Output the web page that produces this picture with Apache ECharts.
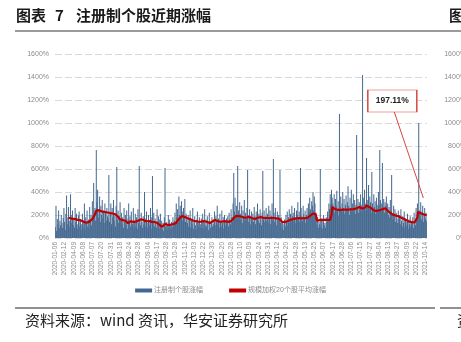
<!DOCTYPE html>
<html>
<head>
<meta charset="utf-8">
<script src="https://cdn.jsdelivr.net/npm/echarts@6/dist/echarts.min.js"></script>
<style>
html,body{margin:0;padding:0;background:#fff;}
#c{width:461px;height:342px;}
</style>
</head>
<body>
<div id="c"></div>
<script>
const tickLabels = ['2020-01-06','2020-02-12','2020-04-09','2020-06-08','2020-07-07','2020-07-20','2020-07-31','2020-08-18','2020-08-24','2020-08-28','2020-09-04','2020-09-17','2020-09-28','2020-10-28','2020-11-12','2020-12-03','2020-12-22','2020-12-30','2021-01-20','2021-01-28','2021-02-10','2021-03-09','2021-03-24','2021-03-31','2021-04-12','2021-04-20','2021-04-28','2021-05-13','2021-05-25','2021-06-07','2021-06-17','2021-06-28','2021-07-06','2021-07-15','2021-07-27','2021-08-04','2021-08-13','2021-08-27','2021-09-09','2021-09-22','2021-10-14'];
const labelStep = 14;
const yTicks = [0,200,400,600,800,1000,1200,1400,1600];

// 注册制个股涨幅 (%)
const barValues = [
95,280,60,165,120,240,85,150,110,200,130,90,175,260,140,70,210,370,120,180,
270,150,95,380,200,130,240,110,175,90,260,140,210,120,80,195,230,100,160,70,
120,210,90,150,300,75,180,130,240,100,160,85,270,140,200,110,320,180,478,230,
260,150,765,310,420,180,250,360,140,280,200,330,170,240,130,300,220,150,260,190,
170,548,140,220,300,120,260,180,330,150,210,100,280,617,160,240,130,190,310,150,
220,120,180,90,260,140,200,110,240,80,170,300,130,190,100,230,150,120,260,90,
140,210,100,180,80,250,130,626,160,110,220,140,90,190,120,400,170,100,230,130,
90,200,150,110,260,80,180,540,130,220,100,170,140,90,250,120,190,80,160,210,
110,150,80,130,60,180,609,100,140,70,120,200,90,160,110,75,140,95,180,120,
150,220,130,300,180,250,140,360,200,280,170,320,230,150,260,190,340,140,210,160,
130,200,100,170,240,90,150,120,260,80,140,190,110,70,160,230,100,130,180,90,
120,170,90,210,140,80,250,110,160,100,190,130,70,220,150,90,140,180,100,120,
160,230,110,190,140,280,120,170,90,210,150,100,240,130,180,80,200,140,110,170,
130,190,100,220,160,120,250,180,140,300,565,230,350,200,280,170,626,240,190,310,
210,160,280,130,240,190,330,150,220,170,260,591,140,200,250,120,180,230,160,210,
140,270,190,120,230,170,300,150,210,130,250,180,110,220,583,160,240,140,190,260,
150,210,130,280,170,240,120,190,300,160,687,220,140,260,180,110,230,150,200,170,
591,130,180,90,150,70,120,160,100,200,140,230,110,180,250,130,210,160,280,190,
220,150,260,180,130,240,200,310,170,230,140,609,260,190,150,280,210,170,240,130,
200,260,180,300,230,350,250,190,320,280,400,240,360,300,220,150,110,180,90,140,
120,600,100,170,80,150,200,110,130,90,180,140,230,160,300,250,380,290,420,350,
300,260,380,220,340,280,410,250,320,190,1078,270,360,230,300,400,260,340,210,290,
370,240,310,450,280,200,350,260,420,230,300,380,250,330,210,290,896,270,340,220,
310,250,380,290,230,1417,350,270,420,300,240,696,330,280,460,250,360,310,220,574,
300,240,380,270,320,210,350,290,250,400,280,765,330,230,300,652,260,340,220,310,
280,360,230,300,200,270,180,330,240,548,210,160,280,190,250,140,220,170,130,240,
160,200,120,250,150,100,190,130,230,90,170,140,110,210,80,160,120,190,100,140,
130,180,90,220,150,110,260,170,300,200,1000,240,190,310,160,230,280,140,200,260,170,220,150
];

// 规模加权20个股平均涨幅 (%)
const lineValues = [
null,null,null,null,null,null,null,null,null,null,null,null,null,null,null,null,null,null,null,null,
176,174,176,172,170,168,171,167,165,166,165,163,160,162,158,157,159,157,155,152,
150,147,145,142,140,139,136,133,131,130,134,140,145,150,155,157,165,175,185,191,
200,215,240,252,248,244,240,237,235,233,232,230,229,228,227,226,225,224,223,222,
221,220,218,217,216,215,214,213,212,211,209,207,205,200,190,183,175,165,157,158,
156,158,155,157,156,157,150,145,138,133,130,134,138,142,146,148,146,143,140,139,
139,140,142,145,148,150,153,156,157,160,163,166,168,165,155,145,139,141,144,146,
148,147,148,146,144,142,140,141,139,140,139,139,137,135,132,130,125,118,113,110,
106,102,98,96,105,115,122,120,118,116,115,114,113,113,115,117,118,120,121,122,
122,124,128,135,142,150,158,165,172,178,183,187,190,191,189,186,183,180,177,174,
172,170,168,166,165,162,159,156,153,150,149,148,147,146,145,144,143,141,140,139,
140,142,144,146,147,148,148,146,143,141,139,137,134,132,130,133,137,141,145,150,
154,156,157,155,152,148,145,142,140,139,140,141,142,144,145,146,147,148,147,145,
143,141,140,139,139,140,145,152,160,168,176,184,191,192,193,192,191,190,191,191,
189,187,185,183,180,178,176,174,175,177,179,181,183,183,183,181,178,175,172,170,
168,166,165,167,170,173,176,179,181,182,183,182,180,178,176,175,174,174,173,174,
175,176,175,174,173,174,175,176,175,174,173,174,174,173,172,171,170,169,168,167,
165,160,150,140,130,132,135,138,141,143,145,147,148,151,154,157,159,161,163,164,
165,166,168,169,170,171,172,173,174,174,174,173,172,171,170,170,171,172,170,169,
172,175,178,182,186,190,195,200,205,210,213,215,216,217,210,180,150,148,150,152,
155,157,156,158,157,156,157,158,157,156,155,157,158,157,156,157,158,160,200,270,
265,260,255,252,250,248,247,246,245,244,243,243,244,245,246,247,246,245,246,247,
248,249,248,247,248,249,250,249,248,249,250,251,252,253,254,256,258,262,266,268,
270,268,265,260,256,252,254,258,262,268,275,282,287,285,278,270,262,256,253,252,
250,247,244,240,236,235,236,237,238,240,241,243,244,246,248,250,253,256,259,261,
258,252,245,237,233,228,222,217,212,209,206,203,201,199,197,195,193,192,191,189,
187,184,181,178,175,173,170,167,164,161,157,155,152,150,147,145,142,140,139,139,
138,139,138,137,136,136,135,137,180,226,224,221,218,215,210,205,200,202,205,208,210,207,197.11
];

const seriesNames = ['注册制个股涨幅','规模加权20个股平均涨幅'];
const calloutText = '197.11%';

const cats = barValues.map((_, i) => String(i));
const FONT = '"Liberation Sans","Noto Sans CJK SC",sans-serif';
const pct = v => v + '%';
const chart = echarts.init(document.getElementById('c'), null, {renderer:'canvas'});

chart.setOption({
  backgroundColor:'#fff',
  animation:false,
  textStyle:{fontFamily:FONT},
  grid:[
    {left:55, right:34, top:54, bottom:104},
    {left:470, width:100, top:54, bottom:104}
  ],
  legend:{
    data:[{name:seriesNames[0], icon:'rect'},{name:seriesNames[1], icon:'rect'}],
    left:'center', top:282, itemWidth:17, itemHeight:4, itemGap:26,
    textStyle:{fontSize:7, color:'#8c8c8c', padding:[0,0,0,-3]}
  },
  xAxis:[
    {type:'category', gridIndex:0, data:cats,
     axisLine:{show:false}, axisTick:{show:false},
     axisLabel:{interval:labelStep-1, rotate:90, fontSize:6.5, color:'#8c8c8c', margin:4,
       formatter:(v,i)=> (i % labelStep === 0 ? tickLabels[i/labelStep] : '')}},
    {type:'category', gridIndex:1, data:['a'], show:false}
  ],
  yAxis:[
    {type:'value', gridIndex:0, min:yTicks[0], max:yTicks[yTicks.length-1], interval:200,
     axisLabel:{formatter:pct, fontSize:7, color:'#8c8c8c', margin:6},
     axisLine:{show:false}, axisTick:{show:false},
     splitLine:{lineStyle:{color:'#d9d9d9', type:[7,3], width:1}}},
    {type:'value', gridIndex:1, min:yTicks[0], max:yTicks[yTicks.length-1], interval:200,
     axisLabel:{formatter:pct, fontSize:7, color:'#8c8c8c', margin:4},
     axisLine:{show:false}, axisTick:{show:false}, splitLine:{show:false}}
  ],
  series:[
    {name:seriesNames[0], type:'bar', data:barValues, xAxisIndex:0, yAxisIndex:0,
     itemStyle:{color:'#44688f'}, barCategoryGap:'35%'},
    {name:seriesNames[1], type:'line', data:lineValues, xAxisIndex:0, yAxisIndex:0,
     symbol:'none', lineStyle:{color:'#c00000', width:2.2}, itemStyle:{color:'#c00000'},
     markLine:{silent:true, symbol:['none','none'], label:{show:false},
       lineStyle:{color:'#d9463f', width:1, type:'solid'},
       data:[[{coord:['513',1096]},{coord:['557',348]}]]},
     markPoint:{silent:true, symbol:'rect', symbolSize:[49,22],
       itemStyle:{color:'#fff', borderColor:'#d9463f', borderWidth:1},
       label:{show:true, formatter:calloutText, color:'#222', fontSize:8.5, fontWeight:'bold', position:'inside'},
       data:[{coord:['510',1191]}]}}
  ],
  graphic:[
    {type:'text', left:16, top:8, style:{text:'图表', font:'bold 15px "Noto Sans CJK SC"', fill:'#1a1a1a'}},
    {type:'text', left:55, top:8, style:{text:'7', font:'bold 15px "Noto Sans CJK SC"', fill:'#1a1a1a'}},
    {type:'text', left:76, top:8, style:{text:'注册制个股近期涨幅', font:'bold 15px "Noto Sans CJK SC"', fill:'#1a1a1a'}},
    {type:'text', left:449, top:8, style:{text:'图表 8', font:'bold 15px "Noto Sans CJK SC"', fill:'#1a1a1a'}},
    {type:'rect', shape:{x:15, y:30, width:446, height:2}, style:{fill:'#9a9a9a'}},
    {type:'rect', shape:{x:15, y:307.5, width:420, height:1}, style:{fill:'#222'}},
    {type:'rect', shape:{x:440, y:307.5, width:21, height:1}, style:{fill:'#222'}},
    {type:'text', left:25, top:313, style:{text:'资料来源：wind 资讯，华安证券研究所', font:'15px "Noto Sans CJK SC"', fill:'#222'}},
    {type:'text', left:457, top:313, style:{text:'资料来源', font:'15px "Noto Sans CJK SC"', fill:'#222'}}
  ]
});
</script>
</body>
</html>
